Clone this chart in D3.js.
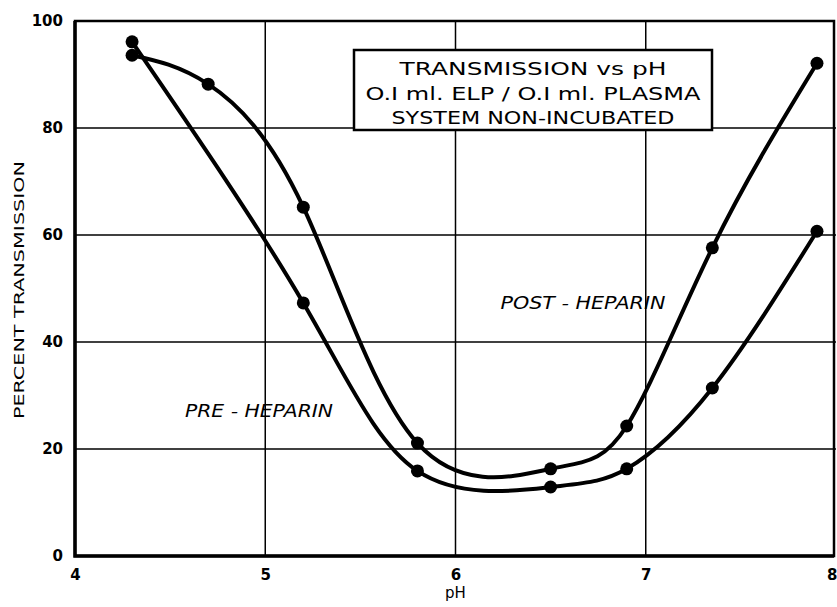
<!DOCTYPE html>
<html>
<head>
<meta charset="utf-8">
<script src="https://cdn.jsdelivr.net/npm/d3@7"></script>
<style>
  body { margin: 0; background: white; }
  text { font-family: "DejaVu Sans", sans-serif; fill: black; }
</style>
</head>
<body>
<svg id="chart" width="837" height="607"></svg>
<script>
// values
var postPH = [4.3, 4.7, 5.2, 5.8, 6.5, 6.9, 7.35, 7.9];
var postVals = [93.6, 88.2, 65.2, 21.1, 16.3, 24.3, 57.6, 92.1];
var prePH = [4.3, 5.2, 5.8, 6.5, 6.9, 7.35, 7.9];
var preVals = [96.1, 47.3, 15.9, 12.9, 16.3, 31.4, 60.7];
var xTicks = [4, 5, 6, 7, 8];
var yTicks = [0, 20, 40, 60, 80, 100];
var titleLines = ["TRANSMISSION  vs  pH", "O.I ml.  ELP / O.I ml.  PLASMA", "SYSTEM  NON-INCUBATED"];

var margin = { top: 21, right: 1, bottom: 51, left: 75 };
var svg = d3.select('#chart');
var width = 837, height = 607;
var innerW = width - margin.left - margin.right;
var innerH = height - margin.top - margin.bottom;

var x = d3.scaleLinear().domain([4, 8]).range([margin.left, margin.left + innerW]);
var y = d3.scaleLinear().domain([0, 100]).range([margin.top + innerH, margin.top]);

// grid lines
svg.append('g')
  .selectAll('line')
  .data(xTicks.slice(1, -1))
  .enter().append('line')
  .attr('x1', d => x(d)).attr('x2', d => x(d))
  .attr('y1', y(100)).attr('y2', y(0))
  .attr('stroke', 'black').attr('stroke-width', 1.5);

svg.append('g')
  .selectAll('line')
  .data(yTicks.slice(1, -1))
  .enter().append('line')
  .attr('y1', d => y(d)).attr('y2', d => y(d))
  .attr('x1', x(4)).attr('x2', x(8))
  .attr('stroke', 'black').attr('stroke-width', 1.5);

// frame
svg.append('rect')
  .attr('x', x(4)).attr('y', y(100))
  .attr('width', x(8) - x(4) - 2).attr('height', y(0) - y(100))
  .attr('fill', 'none').attr('stroke', 'black').attr('stroke-width', 2.5);
svg.append('path')
  .attr('d', 'M' + x(4) + ',' + y(100) + 'V' + y(0) + 'H' + (x(8) - 2))
  .attr('fill', 'none').attr('stroke', 'black').attr('stroke-width', 3.5);

// axes via d3 axis, styled to look like the hand-lettered ticks
svg.append('g')
  .attr('transform', 'translate(0,' + y(0) + ')')
  .call(d3.axisBottom(x).tickValues(xTicks).tickSize(0).tickPadding(13).tickFormat(d3.format('d')))
  .call(g => g.select('.domain').remove())
  .call(g => g.selectAll('text').attr('font-size', '15px').attr('font-weight', 'bold').attr('font-family', 'DejaVu Sans'))
  .call(g => g.selectAll('.tick').filter(d => d == 8).select('text').attr('text-anchor', 'end').attr('x', 1));

svg.append('g')
  .attr('transform', 'translate(' + (x(4) - 12) + ',0)')
  .call(d3.axisLeft(y).tickValues(yTicks).tickSize(0).tickPadding(0))
  .call(g => g.select('.domain').remove())
  .call(g => g.selectAll('text').attr('font-size', '15px').attr('font-weight', 'bold').attr('font-family', 'DejaVu Sans'));

svg.append('text')
  .attr('x', x(6)).attr('y', 598)
  .attr('text-anchor', 'middle')
  .attr('font-size', '15px')
  .text('pH');

svg.append('text')
  .attr('transform', 'rotate(-90)')
  .attr('x', -290).attr('y', 24)
  .attr('text-anchor', 'middle')
  .attr('font-size', '14px')
  .attr('textLength', 258)
  .attr('lengthAdjust', 'spacingAndGlyphs')
  .text('PERCENT TRANSMISSION');

// curves
var line = d3.line()
  .x(d => x(d[0]))
  .y(d => y(d[1]))
  .curve(d3.curveNatural);

var series = [
  d3.zip(postPH, postVals),
  d3.zip(prePH, preVals)
];

series.forEach(function(pts) {
  svg.append('path')
    .datum(pts)
    .attr('fill', 'none')
    .attr('stroke', 'black')
    .attr('stroke-width', 4)
    .attr('d', line);
  svg.append('g')
    .selectAll('circle')
    .data(pts)
    .enter().append('circle')
    .attr('cx', d => x(d[0]))
    .attr('cy', d => y(d[1]))
    .attr('r', 6.5)
    .attr('fill', 'black');
});

// title box
svg.append('rect')
  .attr('x', 354).attr('y', 50)
  .attr('width', 358).attr('height', 80)
  .attr('fill', 'white').attr('stroke', 'black').attr('stroke-width', 2.5);

var titleWidths = [267, 335, 283];
svg.append('g')
  .selectAll('text')
  .data(titleLines)
  .enter().append('text')
  .attr('x', 533)
  .attr('y', (d, i) => 75 + i * 24.5)
  .attr('text-anchor', 'middle')
  .attr('font-size', '18px')
  .attr('textLength', (d, i) => titleWidths[i])
  .attr('lengthAdjust', 'spacingAndGlyphs')
  .text(d => d);

svg.append('text')
  .attr('x', 583).attr('y', 309)
  .attr('text-anchor', 'middle')
  .attr('font-size', '17px')
  .attr('font-style', 'italic')
  .attr('textLength', 165)
  .attr('lengthAdjust', 'spacingAndGlyphs')
  .text('POST - HEPARIN');

svg.append('text')
  .attr('x', 259).attr('y', 417)
  .attr('text-anchor', 'middle')
  .attr('font-size', '17px')
  .attr('font-style', 'italic')
  .attr('textLength', 148)
  .attr('lengthAdjust', 'spacingAndGlyphs')
  .text('PRE - HEPARIN');
</script>
</body>
</html>
